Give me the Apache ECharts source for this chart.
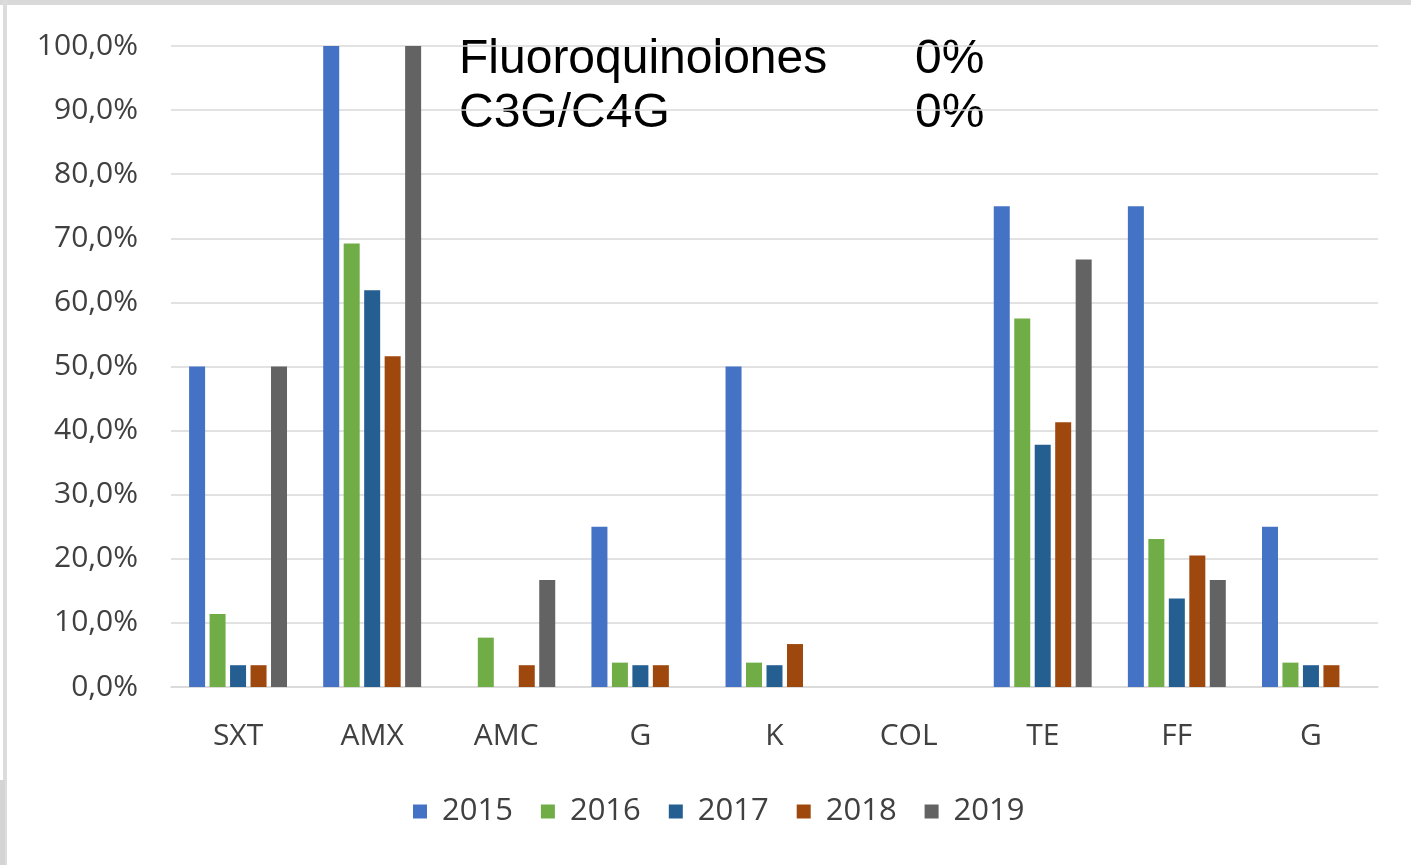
<!DOCTYPE html>
<html>
<head>
<meta charset="utf-8">
<script src="https://cdn.jsdelivr.net/npm/echarts@6/dist/echarts.min.js"></script>
<style>html,body{margin:0;padding:0;background:#fff;}#c{width:1411px;height:865px;}</style>
</head>
<body>
<div id="c"></div>
<script>
const categories = ['SXT', 'AMX', 'AMC', 'G', 'K', 'COL', 'TE', 'FF', 'G'];
const years = ['2015', '2016', '2017', '2018', '2019'];
const v2015 = [50, 100, 0, 25, 50, 0, 75, 75, 25];
const v2016 = [11.4, 69.2, 7.7, 3.8, 3.8, 0, 57.5, 23.1, 3.8];
const v2017 = [3.4, 61.9, 0, 3.4, 3.4, 0, 37.8, 13.8, 3.4];
const v2018 = [3.4, 51.6, 3.4, 3.4, 6.7, 0, 41.3, 20.5, 3.4];
const v2019 = [50, 100, 16.7, 0, 0, 0, 66.7, 16.7, 0];
const yTicks = [0, 10, 20, 30, 40, 50, 60, 70, 80, 90, 100];
const notes = [['Fluoroquinolones', '0%'], ['C3G/C4G', '0%']];

const colors = ['#4472C4', '#70AD47', '#255E91', '#9E480E', '#636363'];
const seriesValues = [v2015, v2016, v2017, v2018, v2019];
const font = '"Open Sans", sans-serif';
const textColor = '#404040';

const chart = echarts.init(document.getElementById('c'), null, {renderer: 'canvas'});
const graphics = [
  {type: 'rect', shape: {x: 0, y: 0, width: 1411, height: 5}, style: {fill: '#d9d9d9'}, silent: true},
  {type: 'rect', shape: {x: 3, y: 0, width: 4, height: 865}, style: {fill: '#dcdcdc'}, silent: true},
  {type: 'rect', shape: {x: 0, y: 780, width: 5, height: 85}, style: {fill: '#d4d4d4'}, silent: true}
];
notes.forEach((n, i) => {
  graphics.push({type: 'text', left: 459, top: 36 + i * 54, silent: true,
    style: {text: n[0], font: '48px "Liberation Sans", Arial, sans-serif', fill: '#000'}});
  graphics.push({type: 'text', left: 915, top: 36 + i * 54, silent: true,
    style: {text: n[1], font: '48px "Liberation Sans", Arial, sans-serif', fill: '#000'}});
});

chart.setOption({
  backgroundColor: '#fff',
  animation: false,
  color: colors,
  grid: {left: 171, right: 33, top: 46, bottom: 178, containLabel: false},
  legend: {
    data: years, bottom: 33, left: 408, itemWidth: 14, itemHeight: 14, itemGap: 28,
    icon: 'rect', textStyle: {fontFamily: font, fontSize: 31, color: textColor, padding: [0, 0, 0, 10]}
  },
  xAxis: {
    type: 'category', data: categories,
    axisLine: {lineStyle: {color: '#d9d9d9', width: 1.5}},
    axisTick: {show: false},
    axisLabel: {fontFamily: font, fontSize: 30, color: textColor, margin: 34, interval: 0}
  },
  yAxis: {
    type: 'value', min: 0, max: 100, interval: 10,
    axisLine: {show: false}, axisTick: {show: false},
    splitLine: {lineStyle: {color: '#d9d9d9', width: 1.5}},
    axisLabel: {
      fontFamily: font, fontSize: 30, color: textColor, margin: 33,
      formatter: v => yTicks.includes(v) ? v.toFixed(1).replace('.', ',') + '%' : ''
    }
  },
  series: years.map((y, i) => ({
    name: y, type: 'bar', data: seriesValues[i], barWidth: 16, barGap: '28%',
    itemStyle: {color: colors[i]}
  })),
  graphic: graphics
});
</script>
</body>
</html>
